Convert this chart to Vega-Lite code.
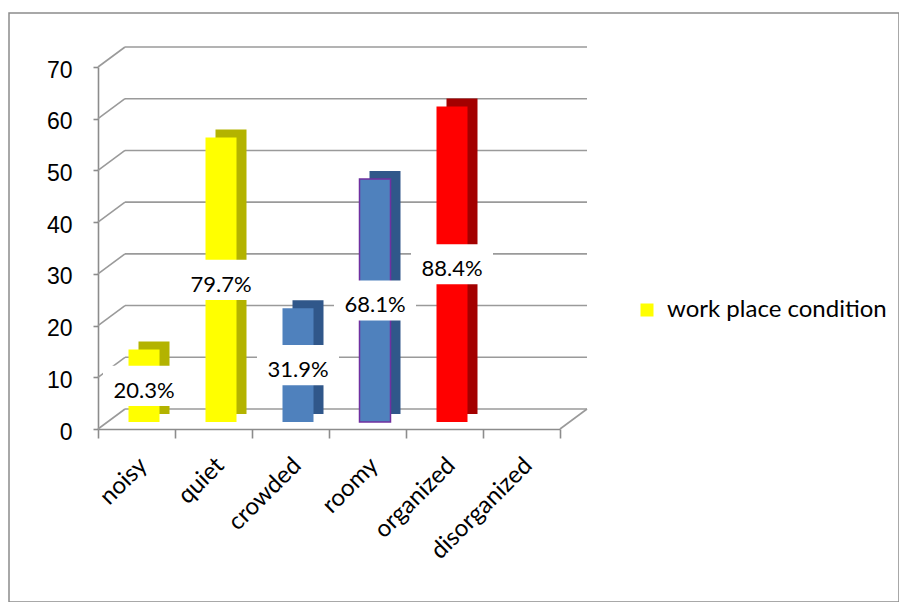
{
  "$schema": "https://vega.github.io/schema/vega-lite/v6.json",
  "width": 890,
  "height": 589,
  "autosize": {"type": "none"},
  "padding": {"left": 9, "top": 13, "right": 0, "bottom": 0},
  "background": "white",
  "view": {"stroke": "#8c8c8c", "strokeWidth": 1.5},
  "config": {
    "axisY": {
      "orient": "left",
      "offset": -89,
      "title": null,
      "grid": false,
      "tickSize": 5,
      "tickColor": "#8c8c8c",
      "tickWidth": 1.6,
      "domainColor": "#8c8c8c",
      "domainWidth": 1.6,
      "labelFont": "Liberation Sans",
      "labelFontSize": 23,
      "labelColor": "#000000",
      "labelPadding": 21,
      "labelOffset": 3,
      "labelOverlap": false
    }
  },
  "datasets": {
    "bars": [
      {"cat": "noisy", "count": 14, "pct": "20.3%"},
      {"cat": "quiet", "count": 55, "pct": "79.7%"},
      {"cat": "crowded", "count": 22, "pct": "31.9%"},
      {"cat": "roomy", "count": 47, "pct": "68.1%"},
      {"cat": "organized", "count": 61, "pct": "88.4%"},
      {"cat": "disorganized", "count": null, "pct": null}
    ],
    "ticks": [{"v": 0}, {"v": 10}, {"v": 20}, {"v": 30}, {"v": 40}, {"v": 50}, {"v": 60}, {"v": 70}],
    "series": [{"series": "work place condition"}]
  },
  "resolve": {"scale": {"x": "independent"}, "axis": {"x": "independent"}},
  "layer": [
    {
      "data": {"name": "ticks"},
      "mark": {"type": "rule", "color": "#9a9a9a", "strokeWidth": 1.6, "xOffset": 27, "x2Offset": 27, "yOffset": -20},
      "encoding": {
        "x": {"datum": 0, "type": "quantitative", "scale": {"domain": [0, 1], "range": [89, 551], "nice": false, "zero": false}, "axis": null},
        "x2": {"datum": 1},
        "y": {"field": "v", "type": "quantitative", "title": null, "scale": {"domain": [0, 70], "range": [416, 54], "nice": false, "zero": false}, "axis": {"values": [0, 10, 20, 30, 40, 50, 60, 70]}}
      }
    },
    {
      "data": {"name": "ticks"},
      "mark": {"type": "rule", "color": "#9a9a9a", "strokeWidth": 1.6, "x2Offset": 27, "y2Offset": -20},
      "encoding": {
        "x": {"datum": 0, "type": "quantitative", "scale": {"domain": [0, 1], "range": [89, 551], "nice": false, "zero": false}, "axis": null},
        "x2": {"datum": 0},
        "y": {"field": "v", "type": "quantitative", "title": null, "axis": {"values": [0, 10, 20, 30, 40, 50, 60, 70]}},
        "y2": {"field": "v"}
      }
    },
    {
      "data": {"name": "ticks"},
      "transform": [{"filter": "datum.v === 0"}],
      "mark": {"type": "rule", "color": "#9a9a9a", "strokeWidth": 1.6, "x2Offset": 27, "y2Offset": -20},
      "encoding": {
        "x": {"datum": 1, "type": "quantitative", "scale": {"domain": [0, 1], "range": [89, 551], "nice": false, "zero": false}, "axis": null},
        "x2": {"datum": 1},
        "y": {"field": "v", "type": "quantitative", "title": null, "axis": {"values": [0, 10, 20, 30, 40, 50, 60, 70]}},
        "y2": {"field": "v"}
      }
    },
    {
      "data": {"name": "series"},
      "mark": {"type": "point", "filled": true, "opacity": 0, "shape": "square"},
      "encoding": {
        "color": {
          "field": "series",
          "type": "nominal",
          "scale": {"range": ["#FFFF00"]},
          "legend": {
            "orient": "none",
            "legendX": 626,
            "legendY": 285,
            "title": null,
            "padding": 0,
            "symbolType": "square",
            "symbolSize": 169,
            "symbolOpacity": 1,
            "labelFont": "Lato",
            "labelFontSize": 24,
            "labelLimit": 400,
            "labelColor": "#000000",
            "labelOffset": 8,
            "encode": {"symbols": {"update": {"opacity": {"value": 1}, "fill": {"value": "#FFFF00"}}}}
          }
        }
      }
    },
    {
      "data": {"name": "bars"},
      "mark": {"type": "bar", "width": 31, "xOffset": 17.5, "yOffset": -15},
      "encoding": {
        "x": {"field": "cat", "type": "nominal", "sort": null, "scale": {"domain": ["noisy", "quiet", "crowded", "roomy", "organized", "disorganized"], "range": [89, 551], "paddingInner": 0, "paddingOuter": 0}, "axis": null},
        "y": {"field": "count", "type": "quantitative", "title": null, "axis": {"values": [0, 10, 20, 30, 40, 50, 60, 70]}},
        "fill": {
          "condition": [
            {"test": "datum.cat === 'noisy' || datum.cat === 'quiet'", "value": "#B3B300"},
            {"test": "datum.cat === 'crowded' || datum.cat === 'roomy'", "value": "#30578A"}
          ],
          "value": "#A30000"
        }
      }
    },
    {
      "data": {"name": "bars"},
      "mark": {"type": "bar", "width": 31, "xOffset": 7.5, "yOffset": -7, "strokeWidth": 1.5},
      "encoding": {
        "x": {
          "field": "cat",
          "type": "nominal",
          "sort": null,
          "scale": {"domain": ["noisy", "quiet", "crowded", "roomy", "organized", "disorganized"], "range": [89, 551], "paddingInner": 0, "paddingOuter": 0},
          "axis": {
            "orient": "bottom",
            "offset": -173,
            "title": null,
            "grid": false,
            "tickBand": "extent",
            "tickSize": 9,
            "tickColor": "#8c8c8c",
            "tickWidth": 1.6,
            "domainColor": "#8c8c8c",
            "domainWidth": 1.6,
            "labelAngle": -45,
            "labelAlign": "right",
            "labelBaseline": "top",
            "labelFont": "Lato",
            "labelFontSize": 24,
            "labelColor": "#000000",
            "labelPadding": 15,
            "labelOffset": -2
          }
        },
        "y": {"field": "count", "type": "quantitative", "title": null, "axis": {"values": [0, 10, 20, 30, 40, 50, 60, 70]}},
        "fill": {
          "field": "cat",
          "type": "nominal",
          "scale": {"domain": ["noisy", "quiet", "crowded", "roomy", "organized", "disorganized"], "range": ["#FFFF00", "#FFFF00", "#4F81BD", "#4F81BD", "#FF0000", "#FF0000"]},
          "legend": null
        },
        "stroke": {"condition": {"test": "datum.cat === 'roomy'", "value": "#7030A0"}, "value": null}
      }
    },
    {
      "data": {"name": "bars"},
      "transform": [{"filter": "isValid(datum.count)"}],
      "mark": {"type": "point", "shape": "M-1,-0.49H1V0.49H-1Z", "size": 6724, "filled": true, "fill": "#ffffff", "opacity": 1, "strokeWidth": 0, "xOffset": 7.5, "yOffset": -7},
      "encoding": {
        "x": {"field": "cat", "type": "nominal", "sort": null, "scale": {"domain": ["noisy", "quiet", "crowded", "roomy", "organized", "disorganized"], "range": [89, 551], "paddingInner": 0, "paddingOuter": 0}, "axis": null},
        "y": {"field": "count", "type": "quantitative", "stack": "zero", "bandPosition": 0.5, "title": null, "axis": {"values": [0, 10, 20, 30, 40, 50, 60, 70]}}
      }
    },
    {
      "data": {"name": "bars"},
      "transform": [{"filter": "isValid(datum.count)"}],
      "mark": {"type": "text", "font": "Lato", "fontSize": 22, "color": "#000000", "baseline": "middle", "align": "center", "xOffset": 7.5, "yOffset": -2},
      "encoding": {
        "x": {"field": "cat", "type": "nominal", "sort": null, "scale": {"domain": ["noisy", "quiet", "crowded", "roomy", "organized", "disorganized"], "range": [89, 551], "paddingInner": 0, "paddingOuter": 0}, "axis": null},
        "y": {"field": "count", "type": "quantitative", "stack": "zero", "bandPosition": 0.5, "title": null, "axis": {"values": [0, 10, 20, 30, 40, 50, 60, 70]}},
        "text": {"field": "pct", "type": "nominal"}
      }
    }
  ]
}
